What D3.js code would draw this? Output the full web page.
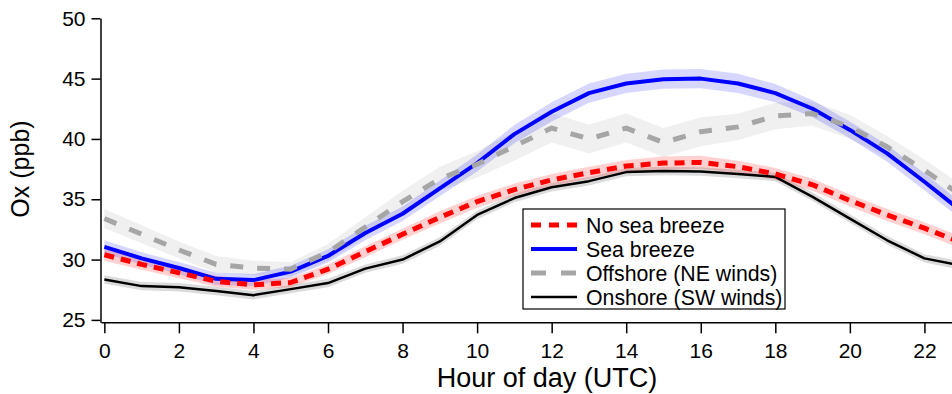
<!DOCTYPE html>
<html>
<head>
<meta charset="utf-8">
<script src="https://cdn.jsdelivr.net/npm/d3@7"></script>
<style>
  body { margin: 0; background: #fff; }
  svg { display: block; font-family: "Liberation Sans", Arial, sans-serif; }
</style>
</head>
<body>
<div id="chart"></div>
<script>
// hour of day (UTC)
var hours = d3.range(0, 24);
var xTicks = [0, 2, 4, 6, 8, 10, 12, 14, 16, 18, 20, 22];
var yTicks = [25, 30, 35, 40, 45, 50];

// Ox (ppb), mean per hour
var noSeaBreeze = [30.4, 29.6, 28.9, 28.2, 27.9, 28.1, 29.2, 30.65, 32.1, 33.5, 34.8, 35.8,
                   36.6, 37.2, 37.75, 38.0, 38.05, 37.7, 37.1, 36.2, 34.9, 33.7, 32.6, 31.4];
var seaBreeze   = [31.05, 30.1, 29.3, 28.4, 28.3, 29.0, 30.3, 32.2, 33.8, 35.9, 38.0, 40.4,
                   42.25, 43.8, 44.6, 44.95, 45.0, 44.6, 43.8, 42.5, 40.75, 38.8, 36.45, 34.0];
var offshore    = [33.4, 32.1, 30.8, 29.6, 29.3, 29.2, 30.6, 32.7, 34.8, 36.7, 37.9, 39.4,
                   40.9, 40.0, 40.9, 39.7, 40.6, 41.0, 41.9, 42.1, 41.0, 39.35, 37.4, 35.3];
var onshore     = [28.35, 27.8, 27.7, 27.4, 27.05, 27.55, 28.05, 29.25, 30.0, 31.5, 33.7, 35.1,
                   36.0, 36.5, 37.25, 37.35, 37.3, 37.1, 36.85, 35.2, 33.4, 31.6, 30.1, 29.5];

// half-width of the shaded uncertainty band
var noSeaBreezeErr = [0.5, 0.45, 0.45, 0.45, 0.4, 0.4, 0.4, 0.45, 0.45, 0.5, 0.5, 0.5,
                      0.5, 0.5, 0.5, 0.55, 0.55, 0.5, 0.5, 0.5, 0.5, 0.5, 0.5, 0.5];
var seaBreezeErr   = [0.55, 0.5, 0.5, 0.5, 0.5, 0.5, 0.55, 0.6, 0.6, 0.65, 0.7, 0.75,
                      0.8, 0.8, 0.8, 0.8, 0.8, 0.8, 0.75, 0.7, 0.7, 0.7, 0.7, 0.7];
var offshoreErr    = [0.8, 0.75, 0.7, 0.7, 0.6, 0.6, 0.7, 0.8, 0.9, 1.0, 1.1, 1.2,
                      1.2, 1.2, 1.2, 1.2, 1.2, 1.1, 1.1, 1.0, 1.0, 0.9, 0.9, 0.9];
var onshoreErr     = [0.35, 0.35, 0.35, 0.35, 0.35, 0.35, 0.35, 0.35, 0.35, 0.35, 0.35, 0.35,
                      0.35, 0.35, 0.35, 0.35, 0.35, 0.35, 0.35, 0.35, 0.35, 0.35, 0.35, 0.35];

var labels = ["No sea breeze", "Sea breeze", "Offshore (NE winds)", "Onshore (SW winds)"];

var series = [
  {name: labels[3], values: onshore, err: onshoreErr, color: "#000000", band: "rgba(0,0,0,0.14)", width: 2.5, dash: null, legendDash: null},
  {name: labels[1], values: seaBreeze, err: seaBreezeErr, color: "#0000ff", band: "rgba(0,0,255,0.16)", width: 4, dash: null, legendDash: null},
  {name: labels[0], values: noSeaBreeze, err: noSeaBreezeErr, color: "#ff0000", band: "rgba(255,0,0,0.18)", width: 5, dash: "10,7", legendDash: "10,8"},
  {name: labels[2], values: offshore, err: offshoreErr, color: "#a6a6a6", band: "rgba(0,0,0,0.06)", width: 5, dash: "13,14", legendDash: "15,15"}
];
var legendOrder = [2, 1, 3, 0];

var width = 952, height = 394;
var svg = d3.select("#chart").append("svg").attr("width", width).attr("height", height);

var x = d3.scaleLinear().domain([-0.09, 22.74]).range([101, 952]);
var y = d3.scaleLinear().domain([24.8, 50]).range([322.3, 18.3]);

// bands
var area = d3.area()
  .x(function(d, i){ return x(hours[i]); })
  .y0(function(d){ return y(d[0] - d[1]); })
  .y1(function(d){ return y(d[0] + d[1]); });

svg.append("g").selectAll("path")
  .data(series)
  .enter()
  .append("path")
  .attr("d", function(s){ return area(s.values.map(function(v, i){ return [v, s.err[i]]; })); })
  .style("fill", function(s){ return s.band; })
  .style("stroke", "none");

// lines
var line = d3.line()
  .x(function(d, i){ return x(hours[i]); })
  .y(function(d){ return y(d); });

svg.append("g").selectAll("path")
  .data(series)
  .enter()
  .append("path")
  .attr("d", function(s){ return line(s.values); })
  .style("fill", "none")
  .style("stroke", function(s){ return s.color; })
  .style("stroke-width", function(s){ return s.width; })
  .style("stroke-dasharray", function(s){ return s.dash; })
  .style("stroke-linejoin", "round");

// axes
var xAxis = svg.append("g")
  .attr("transform", "translate(0,322.3)")
  .call(d3.axisBottom(x).tickValues(xTicks).tickSize(11).tickPadding(10).tickSizeOuter(0));
var yAxis = svg.append("g")
  .attr("transform", "translate(100.5,0)")
  .call(d3.axisLeft(y).tickValues(yTicks).tickSize(9).tickPadding(6).tickSizeOuter(0));

[xAxis, yAxis].forEach(function(a){
  a.select(".domain").style("stroke", "#000").style("stroke-width", 1.5);
  a.selectAll(".tick line").style("stroke", "#000").style("stroke-width", 1.5);
  a.selectAll(".tick text").style("fill", "#000").style("font-size", "21px")
    .style("font-family", "'Liberation Sans', Arial, sans-serif");
});

svg.append("text")
  .attr("x", 547)
  .attr("y", 387)
  .attr("text-anchor", "middle")
  .style("font-size", "27px")
  .text("Hour of day (UTC)");

svg.append("text")
  .attr("transform", "translate(29,169) rotate(-90)")
  .attr("text-anchor", "middle")
  .style("font-size", "25px")
  .text("Ox (ppb)");

// legend
var legend = svg.append("g").attr("transform", "translate(523,209)");
legend.append("rect")
  .attr("width", 262)
  .attr("height", 100)
  .style("fill", "#fff")
  .style("stroke", "#000")
  .style("stroke-width", 1.2);

var rows = legend.selectAll(".row")
  .data(legendOrder.map(function(k){ return series[k]; }))
  .enter()
  .append("g")
  .attr("class", "row")
  .attr("transform", function(d, i){ return "translate(0," + (16 + i * 24) + ")"; });

rows.append("line")
  .attr("x1", 8).attr("x2", 54)
  .style("stroke", function(d){ return d.color; })
  .style("stroke-width", function(d){ return d.width; })
  .style("stroke-dasharray", function(d){ return d.legendDash; });

rows.append("text")
  .attr("x", 63)
  .attr("y", 8)
  .style("font-size", "21.3px")
  .text(function(d){ return d.name; });
</script>
</body>
</html>
